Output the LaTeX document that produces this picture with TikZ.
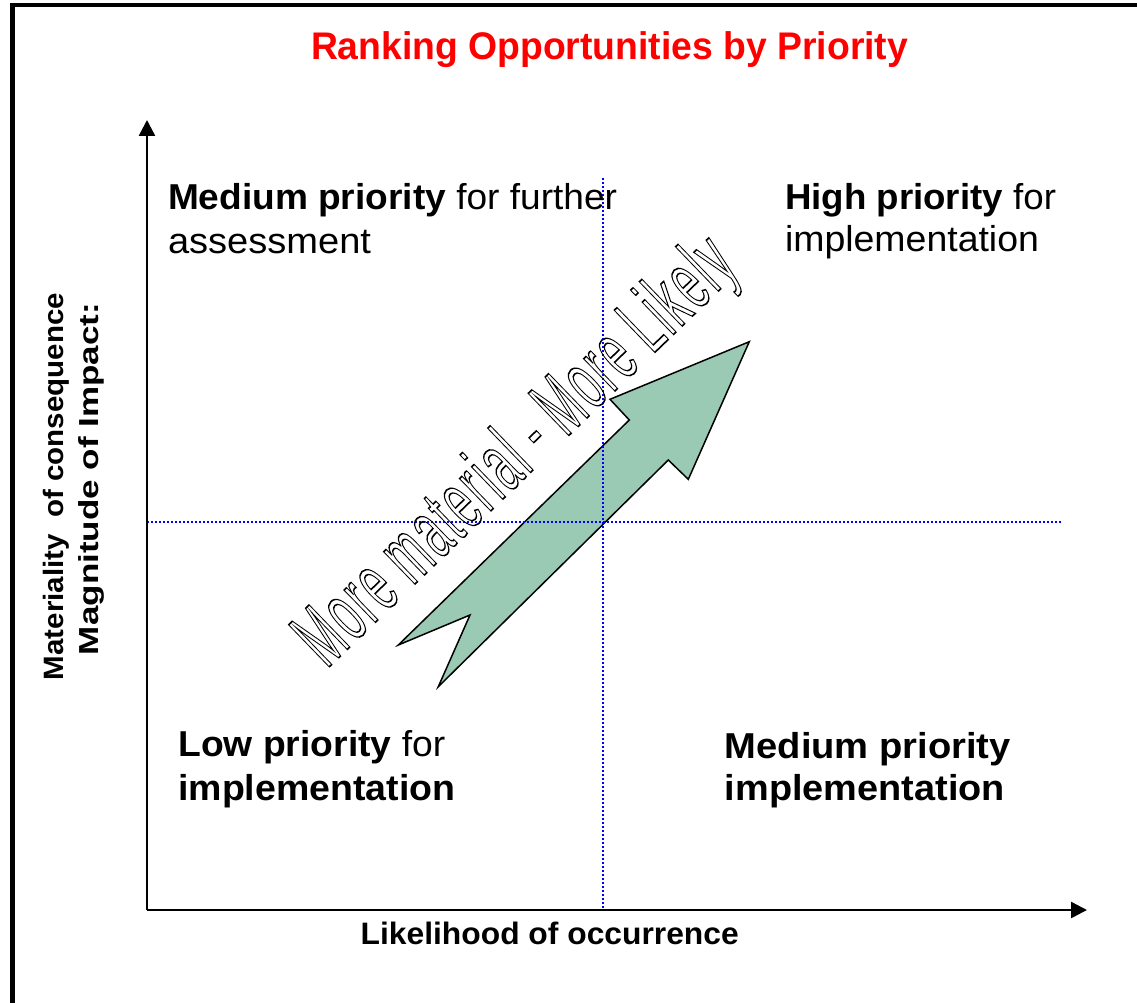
\documentclass[tikz,border=0pt]{standalone}
\usepackage{fontspec}
\setmainfont{Liberation Sans}
\newfontfamily\diagfont[LetterSpace=6]{Liberation Sans}
\usepackage{graphicx}
\usetikzlibrary{arrows.meta}
\definecolor{arrowgreen}{RGB}{155,202,180}
\definecolor{dotblue}{RGB}{0,0,255}
\definecolor{titlered}{RGB}{255,0,0}
\newcommand{\fitw}[2]{\resizebox{#1pt}{\height}{#2}}
\newcommand{\qfont}{\fontsize{36}{40}\selectfont}
\newcommand{\hollowtext}[1]{\special{pdf:literal direct q 1 Tr 1.6 w 0 0 0 RG}#1\special{pdf:literal direct Q}}
\begin{document}
\begin{tikzpicture}[x=1pt,y=-1pt,
  lbl/.style={inner sep=0pt,outer sep=0pt,anchor=base west},
  axisline/.style={line width=2.5pt,-{Triangle[length=16pt,width=16pt]}},
  guide/.style={draw=dotblue,line width=1.8pt,dash pattern=on 1.8pt off 2.2pt},
  bigarrow/.style={draw=black,line width=1.5pt,fill=arrowgreen,line join=miter},
  frameline/.style={line width=4.5pt}]
\useasboundingbox (0,0) rectangle (1137,1003);
\fill[white] (0,0) rectangle (1137,1003);
% frame
\draw[frameline] (1137,5) -- (12.5,5) -- (12.5,1003);
% coordinates
\coordinate (orig) at (147,910);
\coordinate (ytip) at (147,120);
\coordinate (xtip) at (1087,910);
\coordinate (vtop) at (603,178);
\coordinate (vbot) at (603,910);
\coordinate (hl) at (147,522);
\coordinate (hr) at (1062,522);
\coordinate (pA) at (398.3,645);
\coordinate (pB) at (470,615);
\coordinate (pC) at (438.3,686.7);
\coordinate (pD) at (668.3,460);
\coordinate (pE) at (688.3,479.3);
\coordinate (pF) at (749.3,341.7);
\coordinate (pG) at (610,399.3);
\coordinate (pH) at (629.3,420);
% green arrow
\draw[bigarrow] (pA) -- (pB) -- (pC) -- (pD) -- (pE) -- (pF) -- (pG) -- (pH) -- cycle;
% guides
\draw[guide] (vtop) -- (vbot);
\draw[guide] (hl) -- (hr);
% axes
\draw[axisline] (orig) -- (ytip);
\draw[axisline] (orig) -- (xtip);
% title
\node[lbl,text=titlered] (title) at (311,59.3)
  {\fitw{597}{\fontsize{38.5}{42}\selectfont\bfseries Ranking Opportunities by Priority}};
% quadrant texts
\node[lbl] (tl1) at (168,209.3) {\fitw{449}{\qfont\textbf{Medium priority} for further}};
\node[lbl] (tl2) at (168,253.3) {\fitw{203}{\qfont assessment}};
\node[lbl] (tr1) at (785,210) {\fitw{271}{\qfont\textbf{High priority} for}};
\node[lbl] (tr2) at (785,251.7) {\fitw{254}{\qfont implementation}};
\node[lbl] (bl1) at (178.3,756.7) {\fitw{267}{\qfont\textbf{Low priority} for}};
\node[lbl] (bl2) at (178.3,800) {\fitw{277}{\qfont\bfseries implementation}};
\node[lbl] (br1) at (724.8,758) {\fitw{286}{\qfont\bfseries Medium priority}};
\node[lbl] (br2) at (724.8,800.5) {\fitw{280}{\qfont\bfseries implementation}};
% axis labels
\node[lbl] (xlab) at (360.7,944) {\fitw{378}{\fontsize{31}{34}\selectfont\bfseries Likelihood of occurrence}};
\node[lbl,rotate=90] (ylab1) at (63.3,680) {\fitw{387}{\fontsize{28}{30}\selectfont\bfseries Materiality\ \ of consequence}};
\node[lbl,rotate=90] (ylab2) at (98.3,655) {\fitw{352}{\fontsize{27.5}{30}\selectfont\bfseries Magnitude of Impact:}};
% diagonal outlined text
\node[lbl,rotate=44] (diag) at (326.7,669.3)
  {\fitw{575}{\hollowtext{\diagfont\fontsize{85}{90}\selectfont More material - More Likely}}};
\end{tikzpicture}
\end{document}
